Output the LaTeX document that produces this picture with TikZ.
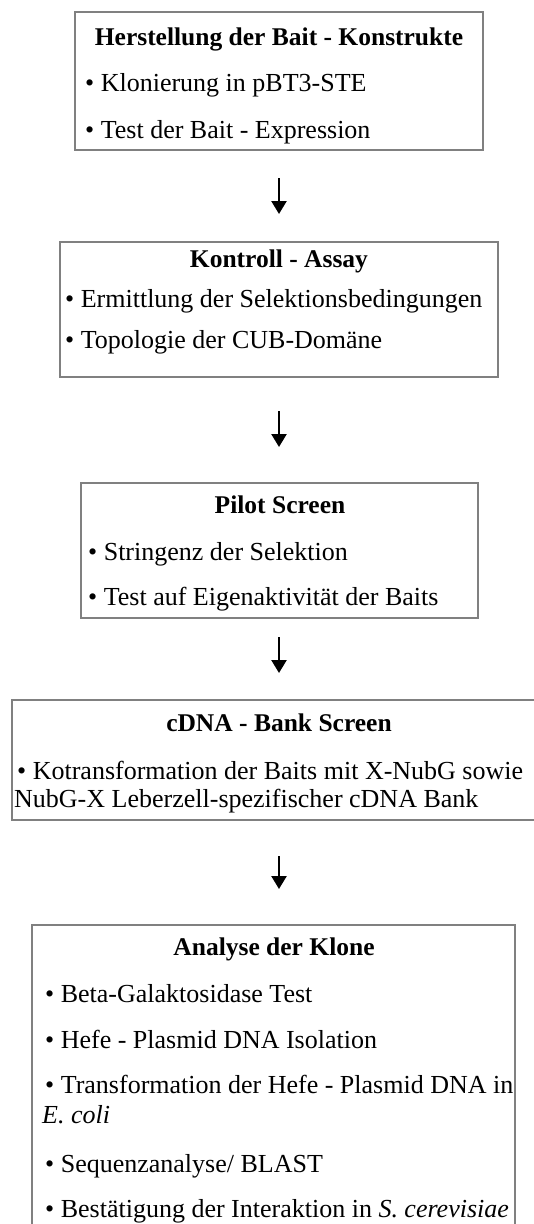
\documentclass[tikz,border=0pt]{standalone}
\usepackage{fontspec}
\setmainfont{Liberation Serif}
\usetikzlibrary{arrows.meta,positioning,calc}

\tikzset{
  stepbox/.style={draw=black!50, line width=2pt, inner sep=0pt},
  boxtitle/.style={font=\fontsize{25.5}{28}\selectfont\bfseries, inner sep=0pt, anchor=base},
  boxitem/.style={font=\fontsize{26}{28}\selectfont, inner sep=0pt, anchor=base west},
  flow/.style={-{Triangle[width=15pt,length=13pt]}, line width=2.5pt}
}

\begin{document}
\begin{tikzpicture}[x=1pt, y=-1pt]
    \clip (0,0) rectangle (534,1224);

    % Herstellung
    \node [stepbox, minimum width=408pt, minimum height=138pt] (herst) at (279,81) {};
    \node [boxtitle] (herstT) at (279,45) {Herstellung der Bait - Konstrukte};
    \node [boxitem] (herstA) at (85,91) {• Klonierung in pBT3-STE};
    \node [boxitem] (herstB) at (85,138) {• Test der Bait - Expression};

    % Kontroll-Assay
    \node [stepbox, minimum width=438pt, minimum height=135pt] (kontroll) at (279,309.5) {};
    \node [boxtitle] (kontrollT) at (279,267) {Kontroll - Assay};
    \node [boxitem] (kontrollA) at (65,307) {• Ermittlung der Selektionsbedingungen};
    \node [boxitem] (kontrollB) at (65,348) {• Topologie der CUB-Domäne};

    % Pilot Screen
    \node [stepbox, minimum width=397pt, minimum height=135pt] (pilot) at (279,550.5) {};
    \node [boxtitle] (pilotT) at (280,513) {Pilot Screen};
    \node [boxitem] (pilotA) at (88,560) {• Stringenz der Selektion};
    \node [boxitem] (pilotB) at (88,605) {• Test auf Eigenaktivität der Baits};

    % cDNA-Bank Screen
    \node [stepbox, minimum width=534pt, minimum height=120pt] (cdna) at (279,760) {};
    \node [boxtitle] (cdnaT) at (279,731) {cDNA - Bank Screen};
    \node [boxitem] (cdnaA) at (17,779) {• Kotransformation der Baits mit X-NubG sowie};
    \node [boxitem] (cdnaB) at (14,807) {NubG-X Leberzell-spezifischer cDNA Bank};

    % Analyse
    \node [stepbox, minimum width=483pt, minimum height=315pt] (analyse) at (273.5,1082.5) {};
    \node [boxtitle] (analyseT) at (274,955) {Analyse der Klone};
    \node [boxitem] (analyseA) at (45,1002) {• Beta-Galaktosidase Test};
    \node [boxitem] (analyseB) at (45,1048) {• Hefe - Plasmid DNA Isolation};
    \node [boxitem] (analyseC) at (45,1093) {• Transformation der Hefe - Plasmid DNA in};
    \node [boxitem] (analyseD) at (42,1123) {\textit{E. coli}};
    \node [boxitem] (analyseE) at (45,1172) {• Sequenzanalyse/ BLAST};
    \node [boxitem] (analyseF) at (45,1217) {• Bestätigung der Interaktion in \textit{S. cerevisiae}};

    % arrows
    \draw [flow, shorten <=27pt, shorten >=27pt] (herst.south) -- (kontroll.north);
    \draw [flow, shorten <=33pt, shorten >=35pt] (kontroll.south) -- (pilot.north);
    \draw [flow, shorten <=18pt, shorten >=26pt] (pilot.south) -- (cdna.north);
    \draw [flow, shorten <=35pt, shorten >=35pt] (cdna.south) -- (cdna.south |- analyse.north);
\end{tikzpicture}
\end{document}
